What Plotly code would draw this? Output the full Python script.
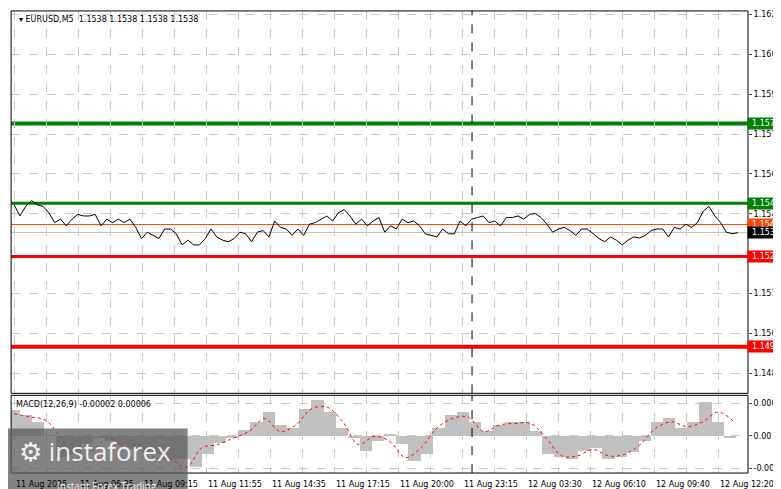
import numpy as np
import plotly.graph_objects as go

# EURUSD M5 close
price = [1.15484, 1.15442, 1.15478, 1.15500, 1.15484, 1.15478, 1.15454, 1.15417, 1.15430, 1.15405,
         1.15430, 1.15448, 1.15442, 1.15442, 1.15448, 1.15405, 1.15430, 1.15417, 1.15430, 1.15417,
         1.15430, 1.15399, 1.15357, 1.15381, 1.15369, 1.15357, 1.15393, 1.15393, 1.15375, 1.15333,
         1.15351, 1.15333, 1.15333, 1.15357, 1.15393, 1.15363, 1.15351, 1.15345, 1.15357, 1.15381,
         1.15375, 1.15345, 1.15381, 1.15387, 1.15363, 1.15423, 1.15399, 1.15393, 1.15369, 1.15393,
         1.15369, 1.15411, 1.15417, 1.15430, 1.15442, 1.15423, 1.15454, 1.15466, 1.15442, 1.15411,
         1.15430, 1.15405, 1.15423, 1.15436, 1.15381, 1.15405, 1.15393, 1.15430, 1.15417, 1.15423,
         1.15405, 1.15375,
         1.15369, 1.15363, 1.15393, 1.15375, 1.15375, 1.15423, 1.15405, 1.15430, 1.15436, 1.15442,
         1.15417, 1.15423, 1.15405, 1.15436, 1.15436, 1.15442, 1.15430, 1.15448, 1.15451, 1.15436,
         1.15411, 1.15381, 1.15393, 1.15399, 1.15387, 1.15369, 1.15393, 1.15393, 1.15375, 1.15357,
         1.15345, 1.15363, 1.15351, 1.15333, 1.15351, 1.15363, 1.15359, 1.15369, 1.15387, 1.15393,
         1.15393, 1.15363, 1.15399, 1.15393, 1.15411, 1.15399, 1.15417, 1.15460, 1.15478, 1.15442,
         1.15417, 1.15381, 1.15375, 1.15379]

macd_hist = [0.000156, 0.000126, 0.000086, 0.0, -0.000134, -0.000114, -0.000054, -0.000014, -0.000034,
             -0.000060, -0.000084, -0.000100, -0.000114, -0.000144, -0.000144, -0.000194, -0.000114,
             -0.000044, -0.000014, 0.000036, 0.000086, 0.000146, 0.000066, 0.000046, 0.000166, 0.000216,
             0.000146, 0.000046, -0.000014, -0.000094, -0.000034, 0.00001, -0.000054, -0.000154,
             -0.000114, 0.000046, 0.000126, 0.000146, 0.000086, 0.000026, 0.000066, 0.000086, 0.000086,
             0.000026, -0.000114, -0.000134, -0.000144, -0.000094, -0.000074, -0.000144, -0.000134,
             -0.000104, -0.000034, 0.000086, 0.000106, 0.000046, 0.000086, 0.000206, 0.000086, -0.000014]
macd_signal = [0.000136, 0.000116, 0.000096, -0.000014, -0.000154, -0.000094, -0.000014, -0.000064,
               -0.000054, -0.000134, -0.000144, -0.000194, -0.000074, -0.000054, -0.000014, 0.000026,
               0.000106, 0.000026, 0.000066, 0.000166, 0.000176, 0.000086, -0.000054, -0.000004,
               -0.000034, -0.000134, -0.000074, 0.000046, 0.000106, 0.000116, 0.000026, 0.000066,
               0.000076, 0.000076, -0.000014, -0.000124, -0.000124, -0.000084, -0.000124, -0.000114,
               -0.000054, 0.000046, 0.000086, 0.000056, 0.000086, 0.000146, 0.000086]

levels = [1.1579, 1.1549, 1.1541, 1.1538, 1.1529, 1.1495]
level_colors = ["#008000", "#008000", "#FF4500", "#C0C0C0", "#FF0000", "#FF0000"]
level_widths = [4, 3, 1, 1, 3, 4]
label_bg = ["#008000", "#008000", "#FF4500", "#000000", "#FF0000", "#FF0000"]

price_ticks = [1.1620, 1.1605, 1.1590, 1.1575, 1.1560, 1.1545, 1.1515, 1.1500, 1.1485]
time_labels = ["11 Aug 2025", "11 Aug 06:35", "11 Aug 09:15", "11 Aug 11:55", "11 Aug 14:35",
               "11 Aug 17:15", "11 Aug 20:00", "11 Aug 23:15", "12 Aug 03:30", "12 Aug 06:10",
               "12 Aug 09:40", "12 Aug 12:20"]
time_bars = [0, 32, 64, 96, 128, 160, 192, 224, 256, 288, 320, 352]
cursor_bar = 229

FONT = "DejaVu Sans"
last_bar = 362
xr = [-1.5, 367]

fig = go.Figure()
fig.add_trace(go.Scatter(x=np.linspace(0, last_bar, len(price)), y=price, mode="lines",
                         line=dict(color="black", width=1), xaxis="x", yaxis="y"))
fig.add_trace(go.Bar(x=np.linspace(0, last_bar - 4, len(macd_hist)), y=macd_hist,
                     marker=dict(color="#C0C0C0", line_width=0), width=6.2,
                     xaxis="x2", yaxis="y2"))
fig.add_trace(go.Scatter(x=np.linspace(0, last_bar - 2, len(macd_signal)), y=macd_signal,
                         mode="lines", line=dict(color="red", width=1, dash="dot", shape="spline"),
                         xaxis="x2", yaxis="y2"))

for lv, c, w in zip(levels, level_colors, level_widths):
    fig.add_shape(type="line", xref="x", yref="y", x0=xr[0], x1=xr[1], y0=lv, y1=lv,
                  line=dict(color=c, width=w), layer="below")
for lv, bg in zip(levels, label_bg):
    fig.add_annotation(x=0.995, xref="paper", y=lv, yref="y", xanchor="right", text=f"{lv:.4f}",
                       showarrow=False, bgcolor=bg, font=dict(color="white", size=8, family=FONT),
                       width=34, borderpad=1)

for tb, tl in zip(time_bars, time_labels):
    fig.add_annotation(x=tb, xref="x", y=0.012, yref="paper", xanchor="left", yanchor="bottom",
                       text=tl, showarrow=False, font=dict(size=8, family=FONT, color="black"))

# crosshair
for ya in ["y domain", "y2 domain"]:
    fig.add_shape(type="line", xref="x", yref=ya, x0=cursor_bar, x1=cursor_bar, y0=0, y1=1,
                  line=dict(color="black", width=1, dash="dash"))

# panel frames
fig.add_shape(type="rect", xref="paper", yref="paper", x0=0.004, x1=0.9475, y0=0.212, y1=0.994,
              line=dict(color="black", width=1))
fig.add_shape(type="rect", xref="paper", yref="paper", x0=0.004, x1=0.9475, y0=0.049, y1=0.208,
              line=dict(color="black", width=1))

fig.add_annotation(x=0.012, xref="paper", y=0.99, yref="paper", xanchor="left", yanchor="top",
                   text="▾ EURUSD,M5  1.1538 1.1538 1.1538 1.1538", showarrow=False,
                   font=dict(size=8, family=FONT, color="black"))
fig.add_annotation(x=0.008, xref="paper", y=0.203, yref="paper", xanchor="left", yanchor="top",
                   text="MACD(12,26,9) -0.00002 0.00006", showarrow=False,
                   font=dict(size=8, family=FONT, color="black"))

# watermark
fig.add_shape(type="rect", xref="paper", yref="paper", x0=0, x1=0.23, y0=0, y1=0.14,
              fillcolor="rgba(90,90,90,0.75)", line_width=0)
fig.add_annotation(x=0.012, xref="paper", y=0.135, yref="paper", xanchor="left", yanchor="top",
                   text="⚙ instaforex", showarrow=False,
                   font=dict(size=26, family="Open Sans", color="rgba(255,255,255,0.9)"))
fig.add_annotation(x=0.06, xref="paper", y=0.005, yref="paper", xanchor="left", yanchor="bottom",
                   text="Instant Forex Trading", showarrow=False,
                   font=dict(size=10, family="Open Sans", color="rgba(255,255,255,0.9)"))

grid = dict(showgrid=True, gridcolor="#C8C8C8", griddash="dash", gridwidth=1, zeroline=False,
            automargin=False)
fig.update_layout(
    width=781, height=489, margin=dict(l=0, r=0, t=0, b=0, autoexpand=False),
    paper_bgcolor="white", plot_bgcolor="white", showlegend=False, bargap=0,
    xaxis=dict(domain=[0.004, 0.9475], range=xr, dtick=16, tick0=0, showticklabels=False, **grid),
    xaxis2=dict(domain=[0.004, 0.9475], range=xr, dtick=16, tick0=0, showticklabels=False,
                anchor="y2", matches="x", **grid),
    yaxis=dict(domain=[0.212, 0.994], range=[1.14775, 1.16213], side="right", tickvals=price_ticks,
               ticktext=[f"{t:.4f}" for t in price_ticks], ticks="outside", ticklen=3,
               tickfont=dict(size=8, family=FONT, color="black"), anchor="x", **grid),
    yaxis2=dict(domain=[0.049, 0.208], range=[-0.000229, 0.000249], side="right",
                tickvals=[0.0002, 0.0, -0.0002], ticktext=["0.0002", "0.00", "-0.0002"],
                ticks="outside", ticklen=3, tickfont=dict(size=8, family=FONT, color="black"),
                anchor="x2", **grid),
)

fig.write_html("out.html")
